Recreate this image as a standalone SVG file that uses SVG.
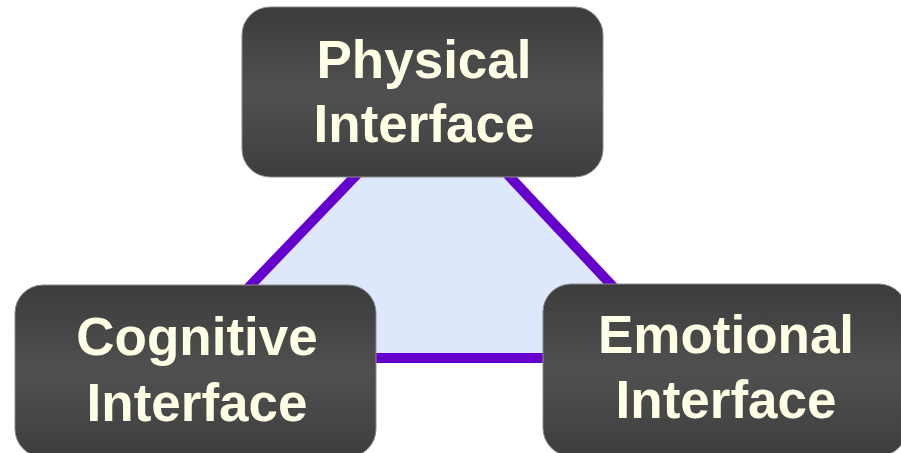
<svg xmlns="http://www.w3.org/2000/svg" width="901" height="453" viewBox="0 0 901 453">
<style>
.box{fill:url(#g);stroke:#8a8a8a;stroke-width:1}
.lbl{font-family:"Liberation Sans",Arial,sans-serif;font-weight:bold;font-size:53px;fill:#FFFFE6;text-anchor:middle}
.edge{stroke:#6600CC;stroke-width:10;fill:none;stroke-linecap:round}
</style>
<defs>
<linearGradient id="g" x1="0" y1="0" x2="0" y2="1">
<stop offset="0" stop-color="#3c3c3c"/>
<stop offset="0.5" stop-color="#505050"/>
<stop offset="1" stop-color="#3e3e3e"/>
</linearGradient>
</defs>
<rect width="901" height="453" fill="#ffffff"/>
<polygon points="433,95 181,358 680,358" fill="#DEE8FD"/>
<g id="connectors">
<line class="edge" x1="433" y1="95" x2="181" y2="358"/>
<line class="edge" x1="433" y1="95" x2="680" y2="358"/>
<line class="edge" x1="181" y1="358" x2="680" y2="358"/>
</g>
<g id="physical">
<rect class="box" x="242" y="7" width="361" height="170" rx="28"/>
<text class="lbl" x="424" y="78">Physical</text>
<text class="lbl" x="424" y="142">Interface</text>
</g>
<g id="cognitive">
<rect class="box" x="15" y="285" width="361" height="172" rx="28"/>
<text class="lbl" x="197" y="355">Cognitive</text>
<text class="lbl" x="197" y="421">Interface</text>
</g>
<g id="emotional">
<rect class="box" x="543" y="284" width="364" height="172" rx="28"/>
<text class="lbl" x="726" y="353">Emotional</text>
<text class="lbl" x="726" y="418">Interface</text>
</g>
</svg>
